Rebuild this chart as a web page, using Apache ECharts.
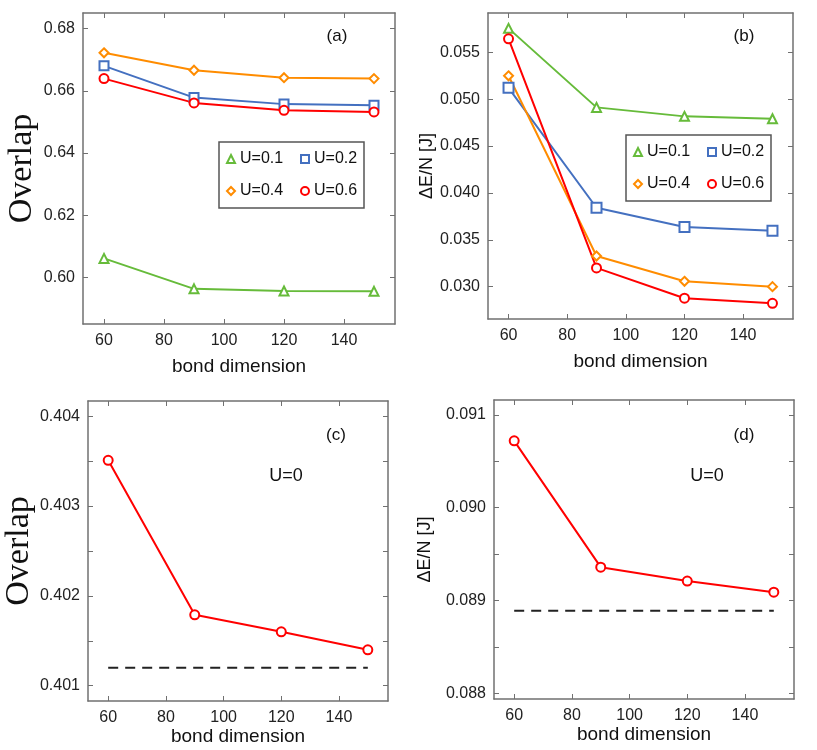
<!DOCTYPE html>
<html>
<head>
<meta charset="utf-8">
<script src="https://cdn.jsdelivr.net/npm/echarts@6/dist/echarts.min.js"></script>
<style>
  html, body { margin: 0; padding: 0; background: #fff; }
  #main { width: 817px; height: 750px; }
</style>
</head>
<body>
<div id="main"></div>
<script>
// bond dimension (x) shared by all panels
var bondDim = [60, 90, 120, 150];

// (a) overlap
var overlapU01 = [0.6061, 0.5963, 0.5956, 0.5955];
var overlapU02 = [0.6680, 0.6578, 0.6557, 0.6553];
var overlapU04 = [0.6722, 0.6666, 0.6642, 0.6639];
var overlapU06 = [0.6639, 0.6561, 0.6537, 0.6532];

// (b) energy error per site
var energyU01 = [0.05756, 0.04913, 0.04817, 0.04792];
var energyU02 = [0.05122, 0.03842, 0.03636, 0.03597];
var energyU04 = [0.05250, 0.03327, 0.03057, 0.03000];
var energyU06 = [0.05645, 0.03200, 0.02877, 0.02822];

// (c), (d) U=0 and the dashed reference level
var overlapU0 = [0.40351, 0.40179, 0.40160, 0.40140];
var overlapU0Ref = [0.4012, 0.4012];
var energyU0 = [0.09072, 0.08936, 0.08921, 0.08909];
var energyU0Ref = [0.08889, 0.08889];
var refX = [60, 150];

// tick values
var xTicks = [60, 80, 100, 120, 140];
var ticksA = [0.60, 0.62, 0.64, 0.66, 0.68];
var ticksB = [0.030, 0.035, 0.040, 0.045, 0.050, 0.055];
var ticksC = [0.401, 0.402, 0.403, 0.404];
var minorC = [0.401, 0.4015, 0.402, 0.4025, 0.403, 0.4035, 0.404];
var ticksD = [0.088, 0.089, 0.090, 0.091];
var minorD = [0.088, 0.0885, 0.089, 0.0895, 0.090, 0.0905, 0.091];

var legendNames = ['U=0.1', 'U=0.2', 'U=0.4', 'U=0.6'];
var colors = ['#66bb3a', '#4470c0', '#ff8c00', '#ff0000'];
var symbols = ['emptyTriangle', 'emptyRect', 'emptyDiamond', 'emptyCircle'];

var frame = '#707070';
var labelFont = 'Liberation Sans, Arial, sans-serif';

function pairs(xs, ys) {
  return xs.map(function (x, i) { return [x, ys[i]]; });
}

function xAxes(g, nameGap) {
  var base = {
    type: 'value', gridIndex: g, min: 53, max: 157,
    axisLine: { show: true, onZero: false, lineStyle: { color: frame, width: 1.5 } },
    splitLine: { show: false }
  };
  return [
    Object.assign({}, base, {
      position: 'bottom',
      name: 'bond dimension', nameLocation: 'middle', nameGap: nameGap,
      nameTextStyle: { fontFamily: labelFont, fontSize: 19, color: '#111' },
      axisTick: { inside: true, length: 5, customValues: xTicks, lineStyle: { color: frame } },
      axisLabel: { customValues: xTicks, fontFamily: labelFont, fontSize: 16, color: '#222', margin: 9 }
    }),
    Object.assign({}, base, {
      position: 'top',
      axisTick: { inside: true, length: 5, customValues: xTicks, lineStyle: { color: frame } },
      axisLabel: { show: false }
    })
  ];
}

function yAxes(g, min, max, labels, ticks, digits, name, nameStyle, nameGap) {
  var base = {
    type: 'value', gridIndex: g, min: min, max: max,
    axisLine: { show: true, onZero: false, lineStyle: { color: frame, width: 1.5 } },
    splitLine: { show: false }
  };
  return [
    Object.assign({}, base, {
      position: 'left',
      name: name, nameLocation: 'middle', nameGap: nameGap,
      nameTextStyle: nameStyle,
      axisTick: { inside: true, length: 5, customValues: ticks, lineStyle: { color: frame } },
      axisLabel: {
        customValues: labels, fontFamily: labelFont, fontSize: 16, color: '#222', margin: 8,
        formatter: function (v) { return v.toFixed(digits); }
      }
    }),
    Object.assign({}, base, {
      position: 'right',
      axisTick: { inside: true, length: 5, customValues: ticks, lineStyle: { color: frame } },
      axisLabel: { show: false }
    })
  ];
}

var serifName = { fontFamily: 'Liberation Serif, DejaVu Serif, serif', fontSize: 34, color: '#111' };
var sansName = { fontFamily: labelFont, fontSize: 18, color: '#111' };

function lineSeries(name, g, data, k) {
  return {
    name: name, type: 'line', xAxisIndex: 2 * g, yAxisIndex: 2 * g,
    data: pairs(bondDim, data),
    symbol: symbols[k], symbolSize: g === 1 && k === 1 ? 10 : 9,
    lineStyle: { color: colors[k], width: 2 },
    itemStyle: { color: colors[k], borderWidth: 2 }
  };
}

function legendBox(left, top) {
  return {
    left: left, top: top, width: 132,
    orient: 'horizontal', selectedMode: false,
    data: legendNames.map(function (n, k) { return { name: n, icon: symbols[k] }; }),
    itemWidth: 8, itemHeight: 8, itemGap: 16,
    padding: [9, 6, 9, 7],
    borderColor: '#555', borderWidth: 1.5, backgroundColor: '#fff',
    textStyle: { fontFamily: labelFont, fontSize: 16, color: '#111', width: 44, lineHeight: 13 }
  };
}

function panelText(x, y, txt, size) {
  return {
    type: 'text', x: x, y: y,
    style: { text: txt, fontFamily: labelFont, fontSize: size, fill: '#111', align: 'center', verticalAlign: 'middle' }
  };
}

var chart = echarts.init(document.getElementById('main'));

var series = [];
[overlapU01, overlapU02, overlapU04, overlapU06].forEach(function (d, k) {
  series.push(lineSeries(legendNames[k], 0, d, k));
});
[energyU01, energyU02, energyU04, energyU06].forEach(function (d, k) {
  series.push(lineSeries(legendNames[k], 1, d, k));
});
series.push({
  name: 'U=0 overlap', type: 'line', xAxisIndex: 4, yAxisIndex: 4,
  data: pairs(bondDim, overlapU0), symbol: 'emptyCircle', symbolSize: 9,
  lineStyle: { color: '#ff0000', width: 2 }, itemStyle: { color: '#ff0000', borderWidth: 2 }
});
series.push({
  name: 'ref c', type: 'line', xAxisIndex: 4, yAxisIndex: 4,
  data: pairs(refX, overlapU0Ref), symbol: 'none',
  lineStyle: { color: '#222', width: 2, type: [10, 7] }
});
series.push({
  name: 'U=0 energy', type: 'line', xAxisIndex: 6, yAxisIndex: 6,
  data: pairs(bondDim, energyU0), symbol: 'emptyCircle', symbolSize: 9,
  lineStyle: { color: '#ff0000', width: 2 }, itemStyle: { color: '#ff0000', borderWidth: 2 }
});
series.push({
  name: 'ref d', type: 'line', xAxisIndex: 6, yAxisIndex: 6,
  data: pairs(refX, energyU0Ref), symbol: 'none',
  lineStyle: { color: '#222', width: 2, type: [10, 7] }
});

var option = {
  backgroundColor: '#fff',
  animation: false,
  grid: [
    { left: 83, top: 13, width: 312, height: 311 },
    { left: 488, top: 13, width: 305, height: 306 },
    { left: 88, top: 401, width: 300, height: 300 },
    { left: 494, top: 400, width: 300, height: 299 }
  ],
  xAxis: [].concat(xAxes(0, 33), xAxes(1, 33), xAxes(2, 23), xAxes(3, 23)),
  yAxis: [].concat(
    yAxes(0, 0.585, 0.685, ticksA, ticksA, 2, 'Overlap', serifName, 44),
    yAxes(1, 0.02655, 0.0592, ticksB, ticksB, 3, 'ΔE/N [J]', sansName, 52),
    yAxes(2, 0.40083, 0.40417, ticksC, minorC, 3, 'Overlap', serifName, 51),
    yAxes(3, 0.08794, 0.09116, ticksD, minorD, 3, 'ΔE/N [J]', sansName, 60)
  ),
  legend: [legendBox(219, 142), legendBox(626, 135)],
  graphic: [
    panelText(337, 36, '(a)', 17),
    panelText(744, 36, '(b)', 17),
    panelText(336, 435, '(c)', 17),
    panelText(744, 435, '(d)', 17),
    panelText(286, 476, 'U=0', 18),
    panelText(707, 476, 'U=0', 18)
  ],
  series: series
};

chart.setOption(option);
</script>
</body>
</html>
